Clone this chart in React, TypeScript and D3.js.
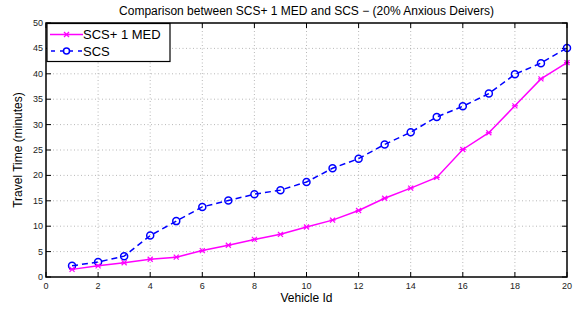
import React from 'react';
import * as d3 from 'd3';

// values
const vehicleIds = [1, 2, 3, 4, 5, 6, 7, 8, 9, 10, 11, 12, 13, 14, 15, 16, 17, 18, 19, 20];
const scsMed = [1.5, 2.2, 2.8, 3.5, 3.9, 5.2, 6.25, 7.4, 8.4, 9.85, 11.2, 13.1, 15.5, 17.5, 19.6, 25.1, 28.4, 33.7, 39.0, 42.2];
const scs = [2.2, 2.96, 4.1, 8.15, 11.0, 13.8, 15.05, 16.3, 17.1, 18.7, 21.4, 23.3, 26.1, 28.5, 31.5, 33.6, 36.1, 39.9, 42.1, 45.1];
const xTicks = [0, 2, 4, 6, 8, 10, 12, 14, 16, 18, 20];
const yTicks = [0, 5, 10, 15, 20, 25, 30, 35, 40, 45, 50];

const W = 577;
const H = 309;
const m = { left: 46, right: 10, top: 23, bottom: 32 };
const font = 'Liberation Sans, Arial, Helvetica, sans-serif';

export default function App() {
  const x = d3.scaleLinear().domain([0, 20]).range([m.left, W - m.right]);
  const y = d3.scaleLinear().domain([0, 50]).range([H - m.bottom, m.top]);
  const line = d3.line<number>().x((_, i) => x(vehicleIds[i])).y(d => y(d));
  const x0 = x(0), x1 = x(20), y0 = y(0), y1 = y(50);
  const tk = 5;

  const cross = (cx: number, cy: number, key: string) => (
    <g key={key} stroke="#ff00ff" strokeWidth={1.2}>
      <line x1={cx - 2.5} y1={cy - 2.5} x2={cx + 2.5} y2={cy + 2.5} />
      <line x1={cx - 2.5} y1={cy + 2.5} x2={cx + 2.5} y2={cy - 2.5} />
      <line x1={cx - 3} y1={cy} x2={cx + 3} y2={cy} />
    </g>
  );

  return (
    <svg width={W} height={H} style={{ position: 'absolute', left: 0, top: 0, background: '#fff' }} fontFamily={font}>
      <rect width={W} height={H} fill="#fff" />
      {/* grid */}
      <g stroke="#888" strokeWidth={0.6} strokeDasharray="1,2.5">
        {xTicks.slice(1, -1).map(t => <line key={'gx' + t} x1={x(t)} x2={x(t)} y1={y0} y2={y1} />)}
        {yTicks.slice(1, -1).map(t => <line key={'gy' + t} x1={x0} x2={x1} y1={y(t)} y2={y(t)} />)}
      </g>
      {/* ticks */}
      <g stroke="#000" strokeWidth={1}>
        {xTicks.map(t => (
          <g key={'tx' + t}>
            <line x1={x(t)} x2={x(t)} y1={y0} y2={y0 - tk} />
            <line x1={x(t)} x2={x(t)} y1={y1} y2={y1 + tk} />
          </g>
        ))}
        {yTicks.map(t => (
          <g key={'ty' + t}>
            <line x1={x0} x2={x0 + tk} y1={y(t)} y2={y(t)} />
            <line x1={x1} x2={x1 - tk} y1={y(t)} y2={y(t)} />
          </g>
        ))}
      </g>
      {/* tick labels */}
      <g fontSize={9} fill="#222">
        {xTicks.map(t => (
          <text key={'lx' + t} x={x(t)} y={y0 + 11.5} textAnchor="middle">{t}</text>
        ))}
        {yTicks.map(t => (
          <text key={'ly' + t} x={x0 - 3} y={y(t) + 3} textAnchor="end">{t}</text>
        ))}
      </g>
      {/* series */}
      <path d={line(scs) || ''} fill="none" stroke="#0000ff" strokeWidth={1.5} strokeDasharray="6,4" />
      {scs.map((v, i) => (
        <circle key={'c' + i} cx={x(vehicleIds[i])} cy={y(v)} r={3.5} fill="none" stroke="#0000ff" strokeWidth={1.5} />
      ))}
      <path d={line(scsMed) || ''} fill="none" stroke="#ff00ff" strokeWidth={1.5} />
      {scsMed.map((v, i) => cross(x(vehicleIds[i]), y(v), 'm' + i))}
      {/* frame */}
      <rect x={x0} y={y1} width={x1 - x0} height={y0 - y1} fill="none" stroke="#000" strokeWidth={1.5} />
      {/* legend */}
      <g>
        <rect x={x0 + 1} y={y1 + 0.5} width={123} height={38} fill="#fff" stroke="#000" strokeWidth={1.2} />
        <line x1={x0 + 4} x2={x0 + 37} y1={y1 + 11.5} y2={y1 + 11.5} stroke="#ff00ff" strokeWidth={1.5} />
        {cross(x0 + 20.5, y1 + 11.5, 'lg1')}
        <text x={x0 + 37} y={y1 + 16} fontSize={13}>SCS+ 1 MED</text>
        <line x1={x0 + 4} x2={x0 + 37} y1={y1 + 28} y2={y1 + 28} stroke="#0000ff" strokeWidth={1.5} strokeDasharray="4,5" strokeDashoffset={-1} />
        <circle cx={x0 + 20.5} cy={y1 + 28} r={3} fill="none" stroke="#0000ff" strokeWidth={1.5} />
        <text x={x0 + 37} y={y1 + 32.5} fontSize={13}>SCS</text>
      </g>
      {/* titles */}
      <text x={(x0 + x1) / 2} y={15} textAnchor="middle" fontSize={12}>
        Comparison between SCS+ 1 MED and SCS − (20% Anxious Deivers)
      </text>
      <text x={(x0 + x1) / 2} y={y0 + 25} textAnchor="middle" fontSize={12}>Vehicle Id</text>
      <text transform={`translate(22,${(y0 + y1) / 2}) rotate(-90)`} textAnchor="middle" fontSize={12}>
        Travel Time (minutes)
      </text>
    </svg>
  );
}
